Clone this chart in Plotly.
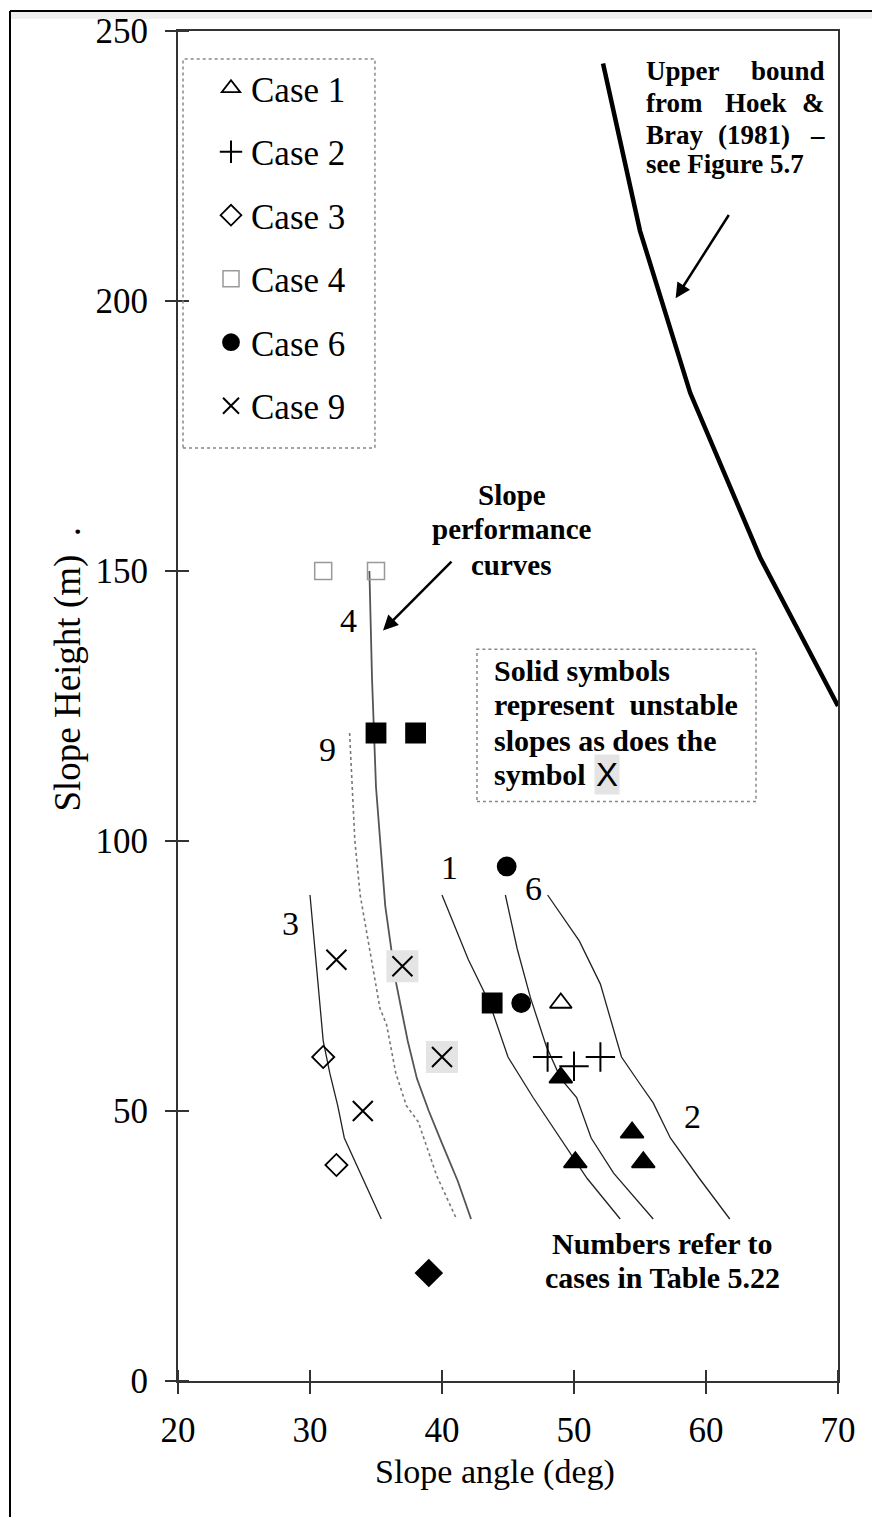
import plotly.graph_objects as go

# ---------------- data ----------------
x_ticks = [20, 30, 40, 50, 60, 70]
y_ticks = [0, 50, 100, 150, 200, 250]

# slope performance curves (case number -> angle / height)
curve4_x = [34.5, 34.7, 35.0, 35.3, 35.7, 36.5, 37.4, 38.1, 39.0, 40.0, 41.2, 42.2]
curve4_y = [150, 130, 110, 100, 88, 74, 63, 56, 50, 44, 37, 30]
curve9_x = [33.0, 33.2, 33.4, 33.8, 34.5, 35.3, 35.8, 36.5, 37.3, 38.2, 39.6, 41.1]
curve9_y = [120, 110, 100, 90, 80, 69, 66, 57, 51, 48, 38, 30]
curve3_x = [30.0, 30.5, 31.0, 31.5, 32.1, 32.6, 34.0, 35.4]
curve3_y = [90, 77, 63, 57, 51, 45, 37.5, 30]
curve1_x = [40.0, 42.0, 43.6, 44.3, 45.0, 46.9, 49.4, 51.0, 53.5]
curve1_y = [90, 78, 70, 65, 60, 52.5, 43.5, 37.5, 30]
curve6_x = [44.8, 45.7, 46.7, 47.9, 49.0, 50.2, 51.3, 53.0, 56.0]
curve6_y = [90, 80, 71, 62, 56, 52.5, 45, 38.5, 30]
curve2_x = [48.0, 50.4, 52.0, 53.0, 53.6, 55.0, 56.0, 57.3, 59.5, 61.8]
curve2_y = [90, 81.5, 73.5, 65, 60, 55, 51.5, 45, 37.5, 30]

# upper bound from Hoek & Bray (1981)
bound_x = [52.2, 55.0, 58.8, 64.1, 70.0]
bound_y = [244, 213, 183, 152.5, 125]

# case points (stable = open symbols)
case1_x = [49.0];             case1_y = [70]
case2_x = [48.0, 50.0, 52.0]; case2_y = [60, 58.3, 60]
case3_x = [31.0, 32.0];       case3_y = [60, 40]
case4_x = [31.0, 35.0];       case4_y = [150, 150]
case6_x = [44.9, 46.0];       case6_y = [95.3, 70]
case9_x = [32.0, 34.0];       case9_y = [78, 50]

# unstable (solid) points
unst_tri_x = [49.0, 50.1, 54.4, 55.25]; unst_tri_y = [56.2, 40.5, 46.0, 40.5]
unst_sq_x = [35.0, 38.0, 43.8];         unst_sq_y = [120, 120, 70]
unst_dia_x = [39.0];                    unst_dia_y = [20]
unst_x_x = [37.0, 40.0];                unst_x_y = [76.8, 60]

# curve labels
lab_text = ["4", "9", "3", "1", "6", "2"]
lab_x = [32.9, 31.3, 28.5, 40.6, 46.9, 59.0]
lab_y = [140.9, 116.9, 84.7, 95.1, 91.2, 48.9]

SERIF = "Liberation Serif"
fig = go.Figure()

def curve(x, y, color="#222", dash="solid", width=1.3):
    fig.add_trace(go.Scatter(x=x, y=y, mode="lines", showlegend=False,
                             line=dict(color=color, dash=dash, width=width),
                             hoverinfo="skip"))

curve(curve4_x, curve4_y, color="#555", width=1.8)
curve(curve9_x, curve9_y, color="#777", dash="dot", width=1.6)
curve(curve3_x, curve3_y)
curve(curve1_x, curve1_y)
curve(curve6_x, curve6_y)
curve(curve2_x, curve2_y)
curve(bound_x, bound_y, color="black", width=4.5)

# grey background squares behind unstable X symbols
fig.add_trace(go.Scatter(x=unst_x_x, y=unst_x_y, mode="markers", showlegend=False,
                         marker=dict(symbol="square", size=32, color="#e4e4e4"),
                         hoverinfo="skip"))

def pts(x, y, name, symbol, size, color="black", lw=1.8, legend=True, group=None):
    fig.add_trace(go.Scatter(x=x, y=y, mode="markers", name=name, showlegend=legend,
                             legendgroup=group,
                             marker=dict(symbol=symbol, size=size, color=color,
                                         line=dict(color=color, width=lw))))

pts(case1_x, case1_y, "Case 1", "triangle-up-open", 19, group="g1")
pts(case2_x, case2_y, "Case 2", "cross-thin-open", 21, lw=2, group="g2")
pts(case3_x, case3_y, "Case 3", "diamond-open", 17, group="g3")
pts(case4_x, case4_y, "Case 4", "square-open", 17, color="#999", lw=1.5, group="g4")
pts(case6_x, case6_y, "Case 6", "circle", 18, group="g6")
pts(case9_x, case9_y, "Case 9", "x-thin-open", 20, lw=2, group="g9")

pts(unst_tri_x, unst_tri_y, "", "triangle-up", 20, legend=False)
pts(unst_sq_x, unst_sq_y, "", "square", 19, legend=False)
pts(unst_dia_x, unst_dia_y, "", "diamond", 20, legend=False)
pts(unst_x_x, unst_x_y, "", "x-thin-open", 20, lw=2, legend=False)

ann = []
for t, x, y in zip(lab_text, lab_x, lab_y):
    ann.append(dict(x=x, y=y, text=t, showarrow=False,
                    font=dict(family=SERIF, size=34, color="black")))

def bold(x, y, text, xanchor="center", size=29):
    ann.append(dict(x=x, y=y, text="<b>%s</b>" % text, showarrow=False, xanchor=xanchor,
                    font=dict(family=SERIF, size=size, color="black")))

# slope performance curves text
bold(45.3, 164.0, "Slope")
bold(45.3, 157.7, "performance")
bold(45.3, 151.2, "curves")

# upper bound text (justified)
L, R = 55.3, 69.17
bold(L, 242.6, "Upper", "left", 27);  bold(R, 242.6, "bound", "right", 27)
bold(L, 236.7, "from", "left", 27);   bold(63.8, 236.7, "Hoek", size=27)
bold(R, 236.7, "&", "right", 27)
bold(L, 230.8, "Bray", "left", 27);   bold(63.6, 230.8, "(1981)", size=27)
bold(R, 230.8, "–", "right", 27)
bold(L, 225.3, "see Figure 5.7", "left", 27)

# solid symbols box text
SL = 43.75
bold(SL, 131.6, "Solid symbols", "left", 30)
bold(SL, 125.2, "represent&nbsp; unstable", "left", 30)
bold(SL, 118.7, "slopes as does the", "left", 30)
bold(SL, 112.3, "symbol", "left", 30)
ann.append(dict(x=52.5, y=112.3, text="X", showarrow=False, bgcolor="#e4e4e4",
                font=dict(family="Liberation Sans", size=33, color="black")))

bold(56.7, 25.5, "Numbers refer to", size=30)
bold(56.7, 19.2, "cases in Table 5.22", size=30)

# arrows
ann.append(dict(x=35.53, y=139.0, ax=40.83, ay=152.0, axref="x", ayref="y", text="",
                showarrow=True, arrowhead=2, arrowsize=1.2, arrowwidth=2.5, arrowcolor="black"))
ann.append(dict(x=57.7, y=200.5, ax=61.8, ay=216.2, axref="x", ayref="y", text="",
                showarrow=True, arrowhead=2, arrowsize=1.2, arrowwidth=2.5, arrowcolor="black"))

# axis titles
ann.append(dict(x=(495 - 178) / 660, xref="paper", y=(1381 - 1472) / 1353, yref="paper",
                yanchor="middle", text="Slope angle (deg)", showarrow=False,
                font=dict(family=SERIF, size=34, color="black")))
ann.append(dict(x=(68 - 178) / 660, xref="paper", xanchor="center",
                y=(1381 - 668) / 1353, yref="paper", yanchor="middle",
                text="Slope Height (m) &nbsp;.", textangle=-90, showarrow=False,
                font=dict(family=SERIF, size=37, color="black")))

shapes = []
# crossing ticks: inner halves
for v in x_ticks:
    shapes.append(dict(type="line", xref="x", yref="y", x0=v, x1=v, ysizemode="pixel",
                       yanchor=0, y0=0, y1=11, line=dict(color="#333", width=2)))
for v in y_ticks:
    shapes.append(dict(type="line", xref="x", yref="y", y0=v, y1=v, xsizemode="pixel",
                       xanchor=20, x0=0, x1=11, line=dict(color="#333", width=2)))
# dotted boxes
shapes.append(dict(type="rect", xref="x", yref="y", x0=20.38, x1=34.92, y0=172.8, y1=244.8,
                   line=dict(color="#888", width=1.5, dash="dot")))
shapes.append(dict(type="rect", xref="x", yref="y", x0=42.65, x1=63.79, y0=107.3, y1=135.5,
                   line=dict(color="#888", width=1.5, dash="dot")))
# outer frame
fx0 = (10 - 178) / 660
fy1 = (1381 - 8) / 1353
shapes.append(dict(type="rect", xref="paper", yref="paper", x0=fx0, x1=1.06,
                   y0=(1381 - 16) / 1353, y1=fy1, fillcolor="#eeeeee", line=dict(width=0),
                   layer="below"))
shapes.append(dict(type="line", xref="paper", yref="paper", x0=fx0, x1=1.06, y0=fy1, y1=fy1,
                   line=dict(color="black", width=2)))
shapes.append(dict(type="line", xref="paper", yref="paper", x0=fx0, x1=fx0, y0=fy1, y1=-0.11,
                   line=dict(color="black", width=2)))

axis_common = dict(showgrid=False, zeroline=False, showline=True, linecolor="#333",
                   linewidth=2, mirror=True, ticks="outside", ticklen=11, tickwidth=2,
                   tickcolor="#333", tickfont=dict(family=SERIF, size=35, color="black"))

fig.update_layout(
    width=872, height=1517,
    margin=dict(l=178, r=34, t=28, b=136),
    paper_bgcolor="white", plot_bgcolor="white",
    xaxis=dict(range=[20, 70], tickvals=x_ticks, ticklabelstandoff=6, **axis_common),
    yaxis=dict(range=[0, 250], tickvals=y_ticks, ticklabelstandoff=10, **axis_common),
    legend=dict(x=(211 - 178) / 660, y=(1381 - 56) / 1353, xanchor="left", yanchor="top",
                bgcolor="rgba(0,0,0,0)", borderwidth=0, tracegroupgap=15,
                font=dict(family=SERIF, size=35, color="black"), itemwidth=30),
    annotations=ann, shapes=shapes, showlegend=True,
)

fig.write_html("out.html")
